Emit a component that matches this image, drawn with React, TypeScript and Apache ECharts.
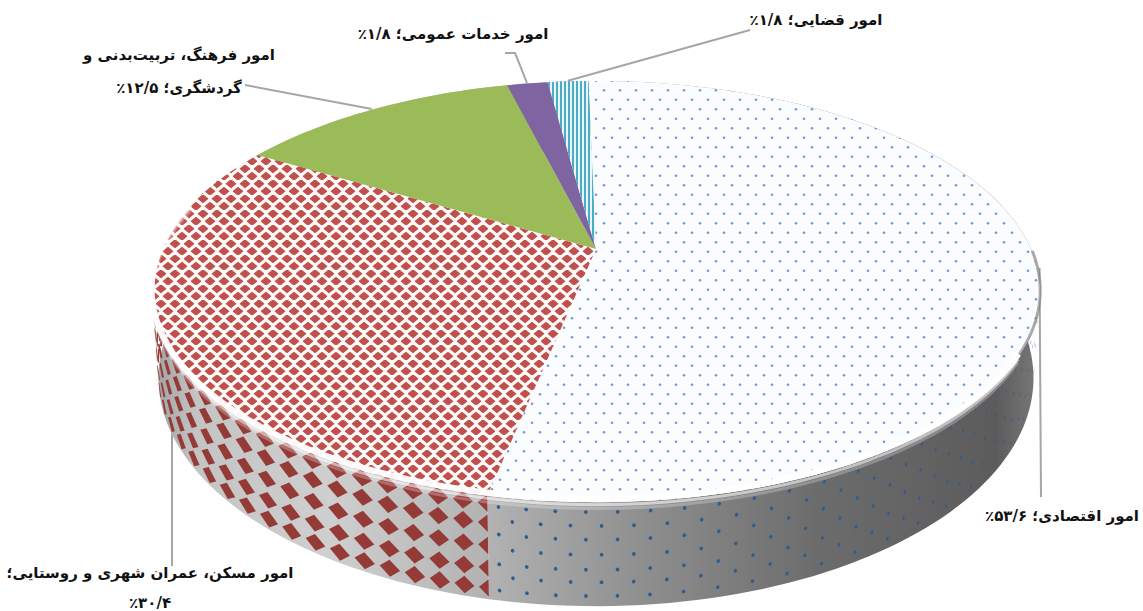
import React, { useEffect, useRef } from "react";
import * as echarts from "echarts";

const categories = ["امور اقتصادی", "امور مسکن، عمران شهری و روستایی", "امور فرهنگ، تربیت‌بدنی و گردشگری", "امور خدمات عمومی", "امور قضایی"];
const shares = [53.6, 30.4, 12.5, 1.8, 1.8];
const shareLabels = ["۵۳/۶", "۳۰/۴", "۱۲/۵", "۱/۸", "۱/۸"];

// Perspective projection of the pie's disc
const CX = 596, CY = 249, A = 435, B = 202, K = 0.202, H = 83, ROT = -1.2;
const project = (deg: number, r = 1, drop = 0) => {
  const t = ((deg + ROT) * Math.PI) / 180;
  const u = r * Math.sin(t), v = -r * Math.cos(t), w = 1 - K * v;
  return [CX + ((A * u) / w) * (1 - (0.015 * drop) / H), CY + (B * v + drop) / w];
};
const arc = (a0: number, a1: number, drop = 0) => {
  const pts: number[][] = [];
  const n = Math.max(2, Math.ceil(Math.abs(a1 - a0) / 1.5));
  for (let i = 0; i <= n; i++) pts.push(project(a0 + ((a1 - a0) * i) / n, 1, drop));
  return pts;
};

function tile(w: number, h: number, bg: string | null, draw: (c: CanvasRenderingContext2D) => void) {
  const cv = document.createElement("canvas");
  cv.width = w; cv.height = h;
  const c = cv.getContext("2d")!;
  if (bg) { c.fillStyle = bg; c.fillRect(0, 0, w, h); }
  draw(c);
  return cv;
}
const dots = (w: number, h: number, rad: number, col: string, bg: string | null) =>
  tile(w, h, bg, (c) => {
    c.fillStyle = col;
    for (const [x, y] of [[w / 4, h / 4], [(3 * w) / 4, (3 * h) / 4]]) {
      c.beginPath(); c.arc(x, y, rad, 0, 7); c.fill();
    }
  });
const diamonds = (w: number, h: number, rw: number, rh: number, col: string, bg: string | null) =>
  tile(w, h, bg, (c) => {
    c.fillStyle = col;
    c.lineJoin = "round"; c.strokeStyle = col; c.lineWidth = 1.2;
    for (const [x, y] of [[w / 2, h / 4], [0, (3 * h) / 4], [w, (3 * h) / 4]]) {
      c.beginPath();
      c.moveTo(x - rw, y); c.lineTo(x, y - rh); c.lineTo(x + rw, y); c.lineTo(x, y + rh);
      c.closePath(); c.fill(); c.stroke();
    }
  });
const stripes = () =>
  tile(4, 4, "#e9f5f8", (c) => { c.fillStyle = "#4bacc6"; c.fillRect(0, 0, 2, 4); });

// leader-line routes: the first point is the slice's projected mid-angle unless anchored is false
const leaderAnchored = [true, false, true, true, true];
const leaderLayout: number[][][] = [
  [[1041, 497]],
  [[172, 400], [172, 566]],
  [[245, 85]],
  [[515, 53], [505, 53]],
  [[750, 30]],
];
const labelLayout: { x: number; y: number; lines: (s: string) => string[] }[] = [
  { x: 1062, y: 516, lines: (s) => [`امور اقتصادی؛ ${s}٪`] },
  { x: 150, y: 573, lines: (s) => ["امور مسکن، عمران شهری و روستایی؛", `٪${s}`] },
  { x: 179, y: 55, lines: (s) => ["امور فرهنگ، تربیت‌بدنی و", `گردشگری؛ ${s}٪`] },
  { x: 453, y: 34, lines: (s) => [`امور خدمات عمومی؛ ${s}٪`] },
  { x: 816, y: 20, lines: (s) => [`امور قضایی؛ ${s}٪`] },
];

export default function App() {
  const ref = useRef<HTMLDivElement>(null);
  useEffect(() => {
    document.body.style.margin = "0";
    const chart = echarts.init(ref.current!, undefined, { renderer: "svg" });

    const img = (cv: HTMLCanvasElement, extra: any = {}) => ({ image: cv, repeat: "repeat", ...extra });
    const topFill: any[] = [
      img(dots(16, 19, 1.3, "#6b9ed4", "#fbfcfd")),
      img(diamonds(14, 15, 4.6, 3.8, "#c0504d", "#fdfafa")),
      "#9bbb59",
      "#8064a2",
      img(stripes()),
    ];
    const wallShade = {
      type: "linear", x: 152, y: 0, x2: 1040, y2: 0, global: true,
      colorStops: [
        { offset: 0, color: "#a0a0a0" },
        { offset: 0.05, color: "#c4c4c4" },
        { offset: 0.2, color: "#cfcfcf" },
        { offset: 0.38, color: "#b2b2b2" },
        { offset: 0.55, color: "#8f8f8f" },
        { offset: 0.75, color: "#6c6c6c" },
        { offset: 0.95, color: "#5c5c5c" },
        { offset: 1, color: "#7a7a7a" },
      ],
    };

    const total = shares.reduce((a, b) => a + b, 0);
    const bounds = [0];
    shares.forEach((s, i) => bounds.push(bounds[i] + (s / total) * 360));
    const cut = bounds[1];

    const shape = (pts: number[][], style: any) => ({ type: "polygon", silent: true, shape: { points: pts }, style });
    const line = (pts: number[][], style: any) => ({ type: "polyline", silent: true, shape: { points: pts }, style: { fill: "none", ...style } });

    // wall textures are laid out in (angle, depth) space so they bend with the rim
    const wallDots = () => {
      const out: any[] = [];
      const rows = [8, 19, 30, 42, 54, 64, 75];
      let col = 0;
      for (let t = cut - 1.2; t > 62; t -= 1.45 + (cut - t) * 0.02, col++) {
        rows.forEach((d, r) => {
          if ((r + col) % 2) return;
          const pts: number[][] = [];
          for (let k = 0; k < 8; k++) {
            const p = (k * Math.PI) / 4;
            pts.push(project(t + 0.2 * Math.cos(p), 1, d + 1.6 * Math.sin(p)));
          }
          out.push(shape(pts, { fill: "#2f5c8f" }));
        });
      }
      return out;
    };
    const wallDiamonds = () => {
      const out: any[] = [];
      const rows = [6, 22, 40, 58, 74];
      const h = 7;
      const step = (t: number) => Math.min(4.2, 2.7 + (t - cut) * 0.04);
      for (let t = cut; t < 296; t += step(t)) {
        const r = 0.4 * step(t);
        rows.forEach((d) => {
          const pts = [project(t, 1, d - h), project(t + r, 1, d), project(t, 1, d + h)];
          if (t > cut) pts.push(project(t - r, 1, d));
          out.push(shape(pts, { fill: "#943b38" }));
        });
      }
      return out;
    };

    const renderItem = (params: any) => {
      const i = params.dataIndex;
      const a0 = bounds[i], a1 = bounds[i + 1];
      if (params.seriesIndex === 0) {
        const mid = (a0 + a1) / 2;
        const pts = leaderAnchored[i] ? [project(mid, 1.005), ...leaderLayout[i]] : leaderLayout[i];
        return line(pts, { stroke: "#a6a6a6", lineWidth: 2 });
      }
      if (params.seriesIndex === 1) {
        const band = [...arc(a0, a1), ...arc(a0, a1, H).reverse()];
        const extras = i === 0 ? wallDots() : i === 1 ? wallDiamonds() : [];
        return { type: "group", children: [shape(band, { fill: wallShade }), ...extras] };
      }
      if (params.seriesIndex === 2) {
        return { type: "group", children: [shape([project(0, 0), ...arc(a0, a1)], { fill: topFill[i] })] };
      }
      // soft rim between the top face and the wall
      return {
        type: "group",
        children: [
          line(arc(92, 124, -1), { stroke: "rgba(120,120,120,0.6)", lineWidth: 3 }),
          line(arc(120, 284, 5), { stroke: "rgba(255,255,255,0.25)", lineWidth: 3 }),
          line(arc(120, 284, 2), { stroke: "rgba(255,255,255,0.6)", lineWidth: 3 }),
          line(arc(120, 284, -2.5), { stroke: "rgba(255,255,255,0.95)", lineWidth: 6 }),
        ],
      };
    };

    const series = (data: number[]) => ({
      type: "custom", coordinateSystem: "none", renderItem, data, silent: true, clip: false,
    });

    const texts: any[] = [];
    labelLayout.forEach((l, i) => {
      l.lines(shareLabels[i]).forEach((t, j) => {
        texts.push({
          type: "text", x: l.x, y: l.y + j * (i === 1 ? 30 : 33), silent: true,
          style: {
            text: t, fill: "#111", font: "bold 15px 'DejaVu Sans'",
            textAlign: "center", textVerticalAlign: "middle",
          },
        });
      });
    });

    chart.setOption({
      animation: false,
      backgroundColor: "#ffffff",
      series: [series(shares), series(shares), series(shares), series([shares[0]])],
      graphic: { elements: texts },
    });
    return () => chart.dispose();
  }, []);
  return <div ref={ref} dir="rtl" aria-label={categories.join("، ")} style={{ position: "absolute", left: 0, top: 0, width: 1143, height: 611, direction: "rtl" }} />;
}
